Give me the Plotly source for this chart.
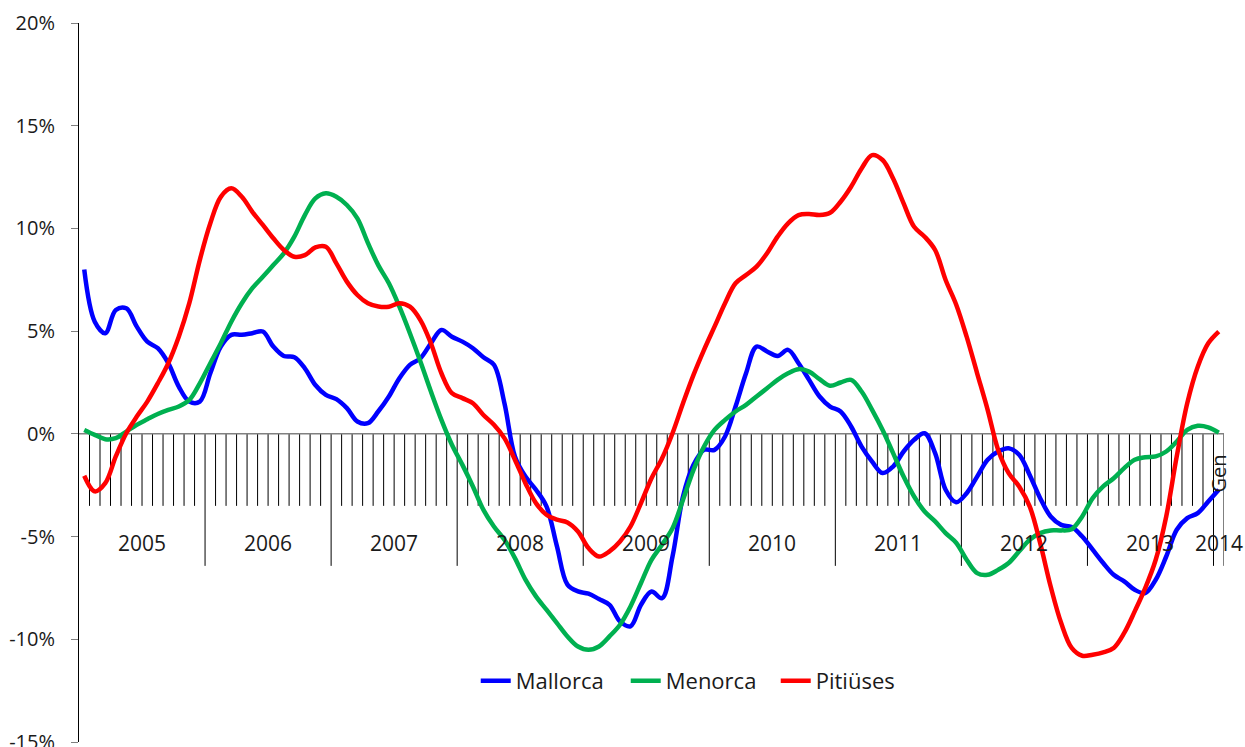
import plotly.graph_objects as go

years = ["2005", "2006", "2007", "2008", "2009", "2010", "2011", "2012", "2013", "2014"]
last_month_label = "Gen"
series_names = ["Mallorca", "Menorca", "Pitiüses"]

mallorca = [8.0, 5.46, 4.90, 6.03, 6.11, 5.22, 4.49, 4.17, 3.44, 2.30, 1.57, 1.57,
            2.95, 4.25, 4.82, 4.82, 4.90, 4.98, 4.25, 3.79, 3.73, 3.19, 2.38, 1.90,
            1.69, 1.25, 0.60, 0.52, 1.10, 1.82, 2.71, 3.36, 3.68, 4.41, 5.06, 4.73,
            4.49, 4.17, 3.73, 3.36, 1.49, -1.10, -2.08, -2.72, -3.53, -5.48, -7.34, -7.67,
            -7.78, -8.04, -8.32, -9.13, -9.37, -8.32, -7.67, -8.0, -5.97, -3.05, -1.51, -0.78,
            -0.78, -0.13, 1.33, 2.95, 4.25, 4.01, 3.79, 4.09, 3.44, 2.63, 1.82, 1.33,
            1.09, 0.36, -0.62, -1.35, -1.91, -1.59, -0.86, -0.29, 0.03, -0.94, -2.72, -3.33,
            -2.89, -2.08, -1.26, -0.86, -0.70, -1.02, -2.0, -3.13, -4.02, -4.43, -4.54, -5.0,
            -5.64, -6.29, -6.86, -7.18, -7.59, -7.75, -7.10, -5.97, -4.67, -4.10, -3.86, -3.29,
            -2.72]

menorca = [0.19, -0.05, -0.26, -0.21, 0.11, 0.44, 0.71, 0.97, 1.17, 1.33, 1.65, 2.46,
           3.44, 4.41, 5.46, 6.36, 7.09, 7.65, 8.22, 8.79, 9.60, 10.65, 11.46, 11.71,
           11.54, 11.14, 10.49, 9.3, 8.2, 7.33, 6.19, 4.90, 3.52, 2.06, 0.68, -0.53,
           -1.51, -2.56, -3.70, -4.51, -5.16, -6.05, -7.10, -7.91, -8.56, -9.21, -9.86, -10.35,
           -10.51, -10.35, -9.86, -9.29, -8.40, -7.26, -6.13, -5.4, -4.6, -3.21, -1.75, -0.62,
           0.19, 0.68, 1.09, 1.41, 1.82, 2.22, 2.63, 2.95, 3.15, 3.03, 2.66, 2.34,
           2.50, 2.63, 2.06, 1.17, 0.19, -0.94, -2.08, -3.05, -3.78, -4.26, -4.83, -5.3,
           -6.13, -6.78, -6.86, -6.62, -6.29, -5.72, -5.16, -4.83, -4.70, -4.70, -4.64, -4.02,
           -3.13, -2.56, -2.16, -1.67, -1.26, -1.14, -1.10, -0.86, -0.37, 0.19, 0.39, 0.32,
           0.06]

pitiuses = [-2.04, -2.80, -2.40, -1.10, 0.03, 0.84, 1.57, 2.46, 3.44, 4.73, 6.36, 8.46,
            10.25, 11.54, 11.95, 11.54, 10.81, 10.17, 9.52, 8.95, 8.62, 8.70, 9.08, 9.11,
            8.30, 7.41, 6.76, 6.36, 6.2, 6.19, 6.36, 6.19, 5.54, 4.41, 2.95, 1.98,
            1.74, 1.49, 0.92, 0.44, -0.21, -1.26, -2.40, -3.37, -3.94, -4.18, -4.31, -4.75,
            -5.56, -5.97, -5.72, -5.24, -4.51, -3.37, -2.16, -1.2, 0.03, 1.49, 2.87, 4.09,
            5.22, 6.36, 7.33, 7.73, 8.14, 8.79, 9.60, 10.25, 10.65, 10.70, 10.65, 10.76,
            11.30, 12.03, 12.92, 13.57, 13.33, 12.43, 11.22, 10.08, 9.60, 8.95, 7.49, 6.3,
            4.73, 2.95, 1.17, -0.78, -1.91, -2.56, -3.53, -5.32, -7.43, -9.21, -10.42, -10.80,
            -10.75, -10.64, -10.42, -9.69, -8.64, -7.51, -6.13, -4.02, -1.10, 1.49, 3.27, 4.41,
            4.98]

y_tick_values = [-15, -10, -5, 0, 5, 10, 15, 20]
y_tick_labels = [f"{v}%" for v in y_tick_values]

colors = ["#0000FF", "#00B050", "#FF0000"]
FONT = "Open Sans"
TXT = "#1a1a1a"

n = len(mallorca)
x = [i + 0.5 for i in range(n)]

fig = go.Figure()
for name, vals, col in zip(series_names, [mallorca, menorca, pitiuses], colors):
    fig.add_trace(go.Scatter(x=x, y=vals, name=name, mode="lines",
                             line=dict(color=col, width=4.5, shape="spline", smoothing=1.0)))

shapes = []
# monthly tick marks on the category axis (at category boundaries)
for k in range(1, n + 1):
    is_year = (k % 12 == 0) or k == n
    shapes.append(dict(type="line", xref="x", yref="y", x0=k, x1=k,
                       ysizemode="pixel", yanchor=0, y0=0, y1=-132 if is_year else -72,
                       line=dict(color="#000000", width=1), layer="below"))
# zero axis line
shapes.append(dict(type="line", xref="x", yref="y", x0=0, x1=n, y0=0, y1=0,
                   line=dict(color="#808080", width=1.5), layer="below"))

annotations = []
for j, yr in enumerate(years):
    start = j * 12
    end = min(start + 12, n)
    annotations.append(dict(x=(start + end) / 2, y=0, xref="x", yref="y", text=yr,
                            showarrow=False, yshift=-109, yanchor="middle",
                            font=dict(family=FONT, size=21, color=TXT)))
annotations.append(dict(x=n - 0.5, y=0, xref="x", yref="y", text=last_month_label,
                        showarrow=False, yshift=-40, textangle=-90, yanchor="middle",
                        font=dict(family=FONT, size=20, color=TXT)))

fig.update_layout(
    width=1245, height=747,
    margin=dict(l=79, r=21, t=23, b=5, autoexpand=False),
    paper_bgcolor="white", plot_bgcolor="white",
    font=dict(family=FONT, size=20, color=TXT),
    shapes=shapes, annotations=annotations,
    showlegend=True,
    legend=dict(orientation="h", x=0.543, xanchor="center", y=0.085, yanchor="middle",
                font=dict(family=FONT, size=22, color=TXT),
                entrywidth=105, entrywidthmode="pixels",
                bgcolor="rgba(0,0,0,0)"),
    xaxis=dict(range=[0, n], visible=False, fixedrange=True, automargin=False),
    yaxis=dict(range=[-15, 20], tickvals=y_tick_values, ticktext=y_tick_labels,
               automargin=False, ticklabeloverflow="allow",
               showgrid=False, zeroline=False, showline=True, linecolor="#000000",
               linewidth=1, ticks="outside", ticklen=7, tickcolor="#808080",
               ticklabelstandoff=12, tickfont=dict(family=FONT, size=20, color=TXT)),
)

fig.write_html("out.html", config={"displayModeBar": False},
               post_script="document.body.style.margin='0';document.body.style.overflow='hidden';")
